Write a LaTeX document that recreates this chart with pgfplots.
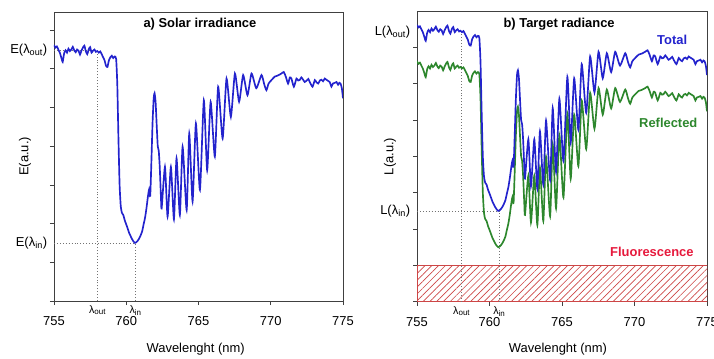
\documentclass[border=0pt]{standalone}
\usepackage{pgfplots}
\pgfplotsset{compat=1.18}
\usepackage{pgfplotstable}
\usepackage{fontspec}
\setmainfont{Liberation Sans}
\usetikzlibrary{patterns.meta}

\definecolor{cblue}{RGB}{35,35,205}
\definecolor{cgreen}{RGB}{45,135,45}
\definecolor{cred}{RGB}{230,25,60}
\definecolor{chatch}{RGB}{205,70,70}

% x = wavelength (nm); E = solar irradiance / reflected radiance; T = total radiance
\pgfplotstableread{
x E T
755.00 6.62 7.62
755.10 6.55 7.55
755.20 6.58 7.58
755.30 6.50 7.50
755.40 6.42 7.42
755.50 6.30 7.30
755.60 6.18 7.18
755.70 6.40 7.40
755.80 6.48 7.48
755.90 6.42 7.42
756.00 6.52 7.52
756.10 6.46 7.46
756.20 6.50 7.50
756.30 6.57 7.57
756.40 6.48 7.48
756.50 6.43 7.43
756.60 6.50 7.50
756.70 6.47 7.47
756.80 6.37 7.37
756.90 6.47 7.47
757.00 6.55 7.55
757.10 6.60 7.60
757.20 6.46 7.46
757.30 6.38 7.38
757.40 6.50 7.50
757.50 6.56 7.56
757.60 6.42 7.42
757.70 6.47 7.47
757.80 6.50 7.50
757.90 6.44 7.44
758.00 6.46 7.46
758.10 6.42 7.42
758.20 6.45 7.45
758.30 6.38 7.38
758.40 6.30 7.30
758.50 6.22 7.22
758.60 6.08 7.08
758.70 6.05 7.05
758.80 6.22 7.22
758.90 6.30 7.30
759.00 6.34 7.34
759.10 6.28 7.28
759.20 6.32 7.32
759.30 6.26 7.26
759.38 5.60 6.60
759.46 4.20 5.20
759.54 3.00 4.00
759.62 2.45 3.45
759.70 2.28 3.28
759.80 2.22 3.22
759.90 2.08 3.08
760.00 1.98 2.98
760.10 1.87 2.87
760.20 1.76 2.76
760.30 1.68 2.68
760.40 1.60 2.60
760.50 1.54 2.54
760.60 1.50 2.50
760.70 1.52 2.52
760.80 1.56 2.56
760.90 1.62 2.62
761.00 1.70 2.70
761.10 1.80 2.80
761.20 1.98 2.98
761.30 2.15 3.15
761.40 2.40 3.40
761.50 2.70 3.70
761.58 2.88 3.88
761.66 2.72 3.72
761.74 3.60 4.60
761.82 4.60 5.60
761.90 5.25 6.25
761.96 5.37 6.37
762.03 5.15 6.15
762.10 4.60 5.60
762.18 4.00 5.00
762.25 3.88 4.88
762.32 3.45 4.45
762.40 2.70 3.70
762.45 2.39 3.39
762.68 3.47 4.47
762.86 2.18 3.18
763.09 3.47 4.47
763.30 2.11 3.11
763.48 3.69 4.69
763.71 2.22 3.22
763.90 3.99 4.99
764.18 2.35 3.35
764.36 4.33 5.33
764.59 2.57 3.57
764.82 4.59 5.59
765.10 2.87 3.87
765.37 5.19 6.19
765.60 3.38 4.38
765.84 5.15 6.15
766.13 3.73 4.73
766.36 5.54 6.54
766.67 4.20 5.20
766.94 5.75 6.75
767.24 4.76 5.76
767.52 5.88 6.88
767.81 5.15 6.15
768.09 5.84 6.84
768.39 5.32 6.32
768.67 5.88 6.88
769.00 5.50 6.50
769.36 5.84 6.84
769.55 5.60 6.60
769.70 5.45 6.45
769.85 5.62 6.62
770.05 5.71 6.71
770.28 5.80 6.80
770.50 5.83 6.83
770.74 5.88 6.88
770.90 5.92 6.92
771.04 5.80 6.80
771.20 5.62 6.62
771.32 5.78 6.78
771.43 5.75 6.75
771.60 5.54 6.54
771.78 5.75 6.75
771.90 5.70 6.70
772.00 5.71 6.71
772.12 5.78 6.78
772.24 5.72 6.72
772.35 5.66 6.66
772.47 5.69 6.69
772.60 5.74 6.74
772.70 5.66 6.66
772.89 5.54 6.54
773.05 5.71 6.71
773.15 5.66 6.66
773.28 5.62 6.62
773.40 5.70 6.70
773.51 5.72 6.72
773.62 5.68 6.68
773.74 5.75 6.75
773.85 5.72 6.72
773.97 5.69 6.69
774.08 5.66 6.66
774.20 5.54 6.54
774.30 5.62 6.62
774.43 5.64 6.64
774.55 5.66 6.66
774.66 5.59 6.59
774.75 5.64 6.64
774.83 5.62 6.62
774.92 5.50 6.50
775.00 5.24 6.24
}\spec

\pgfplotsset{
  panel/.style={
    scale only axis, anchor=south west,
    xmin=755, xmax=775, ymin=0,
    xtick={755,760,765,770,775},
    ytick={0,1,...,7}, yticklabels={},
    tick align=outside, xtick pos=left, ytick pos=left,
    major tick length=3pt,
    axis line style={black!75, line width=0.6pt},
    tick style={black!75, line width=0.6pt},
    font=\fontsize{9.7}{11.6}\selectfont,
    /pgf/number format/assume math mode=true,
    xticklabel style={yshift=-5pt},
    extra x tick style={major tick length=0pt,
      xticklabel style={yshift=5pt, font=\fontsize{8}{9}\selectfont}},
    extra y tick style={major tick length=0pt, yticklabel style={xshift=-1.5pt}},
    clip mode=individual,
    title style={anchor=center, yshift=-6pt, font=\fontsize{9.7}{11.6}\selectfont\bfseries},
    xlabel style={anchor=center},
    ylabel style={anchor=center},
  },
  dots/.style={black!55, line width=0.6pt, dash pattern=on 0.7pt off 1.5pt},
  spec/.style={line width=1.25pt, smooth, tension=0.35},
}

\begin{document}
\begin{tikzpicture}
\path[use as bounding box] (0pt,0pt) rectangle (535.5pt,268.5pt);

% ---------- a) Solar irradiance ----------
\begin{axis}[panel, at={(40.5pt,42.75pt)}, width=216.75pt, height=216.75pt,
  ymax=7.47,
  extra x ticks={758.02,760.65},
  extra x tick labels={λ\textsubscript{out},λ\textsubscript{in}},
  extra y ticks={1.5,6.49},
  extra y tick labels={E(λ\textsubscript{in}),E(λ\textsubscript{out})},
  title={a) Solar irradiance},
  title style={at={(axis description cs:0.505,0.958)}},
  xlabel={Wavelenght (nm)},
  xlabel style={at={(axis description cs:0.49,-0.166)}},
  ylabel={E(a.u.)},
  ylabel style={at={(axis description cs:-0.1003,0.5)}},
]
\addplot[dots] coordinates {(758.02,0) (758.02,6.46)};
\addplot[dots] coordinates {(755,6.49) (758.02,6.49)};
\addplot[dots] coordinates {(755,1.5) (760.65,1.5)};
\addplot[dots] coordinates {(760.65,0) (760.65,1.5)};
\addplot[spec, cblue] table[x=x, y=E] {\spec};
\end{axis}

% ---------- b) Target radiance ----------
\begin{axis}[panel, at={(312.75pt,42.2pt)}, width=217.5pt, height=218pt,
  ymax=8,
  extra x ticks={758.09,760.68},
  extra x tick labels={λ\textsubscript{out},λ\textsubscript{in}},
  extra y ticks={2.49,7.42},
  extra y tick labels={L(λ\textsubscript{in}),L(λ\textsubscript{out})},
  title={b) Target radiance},
  title style={at={(axis description cs:0.49,0.955)}},
  xlabel={Wavelenght (nm)},
  xlabel style={at={(axis description cs:0.486,-0.163)}},
  ylabel={L(a.u.)},
  ylabel style={at={(axis description cs:-0.093,0.5)}},
]
\addplot[draw=chatch, line width=0.6pt,
  pattern={Lines[angle=45,distance=3.6pt,line width=0.5pt]}, pattern color=chatch]
  coordinates {(755,1) (775,1)} \closedcycle;
\addplot[dots] coordinates {(758.09,0) (758.09,7.44)};
\addplot[dots] coordinates {(755,2.49) (760.68,2.49)};
\addplot[dots] coordinates {(760.68,0) (760.68,2.49)};
\addplot[spec, cgreen] table[x=x, y=E] {\spec};
\addplot[spec, cblue] table[x=x, y=T] {\spec};
\node[font=\fontsize{9.7}{11.6}\selectfont\bfseries, text=cblue] at (axis cs:772.6,7.2) {Total};
\node[font=\fontsize{9.7}{11.6}\selectfont\bfseries, text=cgreen] at (axis cs:772.33,4.93) {Reflected};
\node[font=\fontsize{9.7}{11.6}\selectfont\bfseries, text=cred] at (axis cs:771.2,1.37) {Fluorescence};
\end{axis}
\end{tikzpicture}
\end{document}
